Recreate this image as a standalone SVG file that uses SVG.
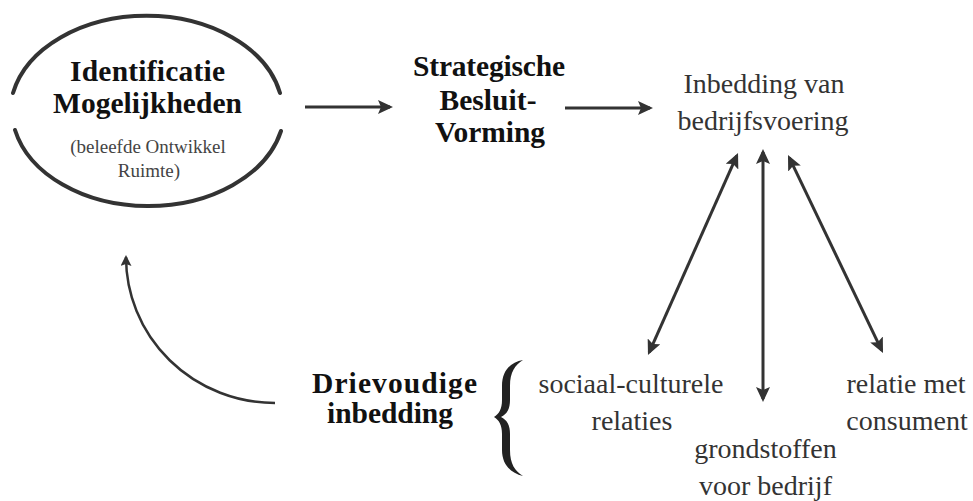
<svg xmlns="http://www.w3.org/2000/svg" width="973" height="501" viewBox="0 0 973 501">
<style>
.b{font-family:"Liberation Serif","Times New Roman",serif;font-weight:bold;font-size:29.5px;fill:#111;text-anchor:middle}
.r{font-family:"Liberation Serif","Times New Roman",serif;font-size:28px;fill:#333;text-anchor:middle}
.s{font-family:"Liberation Serif","Times New Roman",serif;font-size:19px;fill:#444;text-anchor:middle}
.ln{stroke:#333;stroke-width:3;fill:none}
.arc{stroke:#333;stroke-width:4;fill:none;stroke-linecap:round}
</style>
<defs>
<marker id="ah" markerUnits="userSpaceOnUse" markerWidth="15" markerHeight="14" refX="12" refY="7" orient="auto-start-reverse">
<path d="M0,0 L15,7 L0,14 L3,7 Z" fill="#333"/>
</marker>
<marker id="ahs" markerUnits="userSpaceOnUse" markerWidth="11" markerHeight="11" refX="9" refY="5.5" orient="auto">
<path d="M0,0 L11,5.5 L0,11 L2,5.5 Z" fill="#333"/>
</marker>
</defs>
<rect width="973" height="501" fill="#fff"/>
<g id="node-identificatie">
<path class="arc" d="M 13 93 A 136.5 97.5 0 0 1 280 93"/>
<path class="arc" d="M 15 130 A 136.5 97.5 0 0 0 281 131"/>
<text class="b" x="147.5" y="81" textLength="155" lengthAdjust="spacing">Identificatie</text>
<text class="b" x="147.5" y="113" textLength="189" lengthAdjust="spacing">Mogelijkheden</text>
<text class="s" x="148" y="153">(beleefde Ontwikkel</text>
<text class="s" x="149" y="177">Ruimte)</text>
</g>
<g id="node-strategische">
<text class="b" x="489" y="76" textLength="152" lengthAdjust="spacing">Strategische</text>
<text class="b" x="488" y="110" textLength="97" lengthAdjust="spacing">Besluit-</text>
<text class="b" x="490" y="142" textLength="110" lengthAdjust="spacing">Vorming</text>
</g>
<g id="node-inbedding">
<text class="r" x="764" y="93">Inbedding van</text>
<text class="r" x="763" y="130">bedrijfsvoering</text>
</g>
<g id="node-drievoudige">
<text class="b" x="394.5" y="393" textLength="165" lengthAdjust="spacing">Drievoudige</text>
<text class="b" x="390" y="423" textLength="126" lengthAdjust="spacing">inbedding</text>
<path d="M 523 360 C 511 362 502 370 502 386 L 502 400 C 502 409 499 414 494 417 C 499 420 502 425 502 434 L 502 450 C 502 465 511 473 523 476 C 515 471 510 464 510 450 L 510 434 C 510 425 507 420 501 417 C 507 414 510 409 510 400 L 510 386 C 510 372 515 365 523 360 Z" fill="#222"/>
</g>
<g id="node-sociaal">
<text class="r" x="631" y="393">sociaal-culturele</text>
<text class="r" x="632" y="430">relaties</text>
</g>
<g id="node-grondstoffen">
<text class="r" x="765.5" y="458">grondstoffen</text>
<text class="r" x="765.5" y="495">voor bedrijf</text>
</g>
<g id="node-consument">
<text class="r" x="906" y="393">relatie met</text>
<text class="r" x="907" y="430">consument</text>
</g>
<g id="connectors">
<line class="ln" x1="305" y1="107" x2="390" y2="107" marker-end="url(#ah)"/>
<line class="ln" x1="565" y1="108" x2="650" y2="108" marker-end="url(#ah)"/>
<line class="ln" x1="736.8" y1="155.7" x2="649.2" y2="352.3" marker-start="url(#ah)" marker-end="url(#ah)"/>
<line class="ln" x1="763" y1="152" x2="763" y2="399" marker-start="url(#ah)" marker-end="url(#ah)"/>
<line class="ln" x1="789.3" y1="157.7" x2="881.7" y2="350.3" marker-start="url(#ah)" marker-end="url(#ah)"/>
<path d="M 275 403 A 149 146 0 0 1 126 257" stroke="#333" stroke-width="2.5" fill="none" marker-end="url(#ahs)"/>
</g>
</svg>
